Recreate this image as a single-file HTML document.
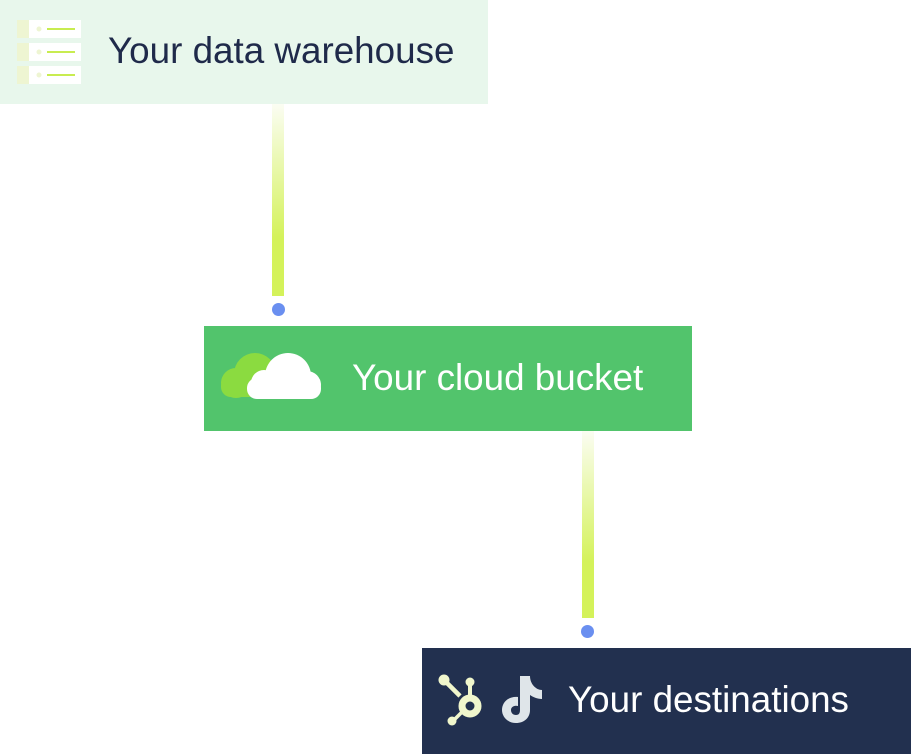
<!DOCTYPE html>
<html><head><meta charset="utf-8"><style>
html,body{margin:0;padding:0;background:#fff;width:911px;height:754px;overflow:hidden;position:relative;font-family:"Liberation Sans",sans-serif}
.box{position:absolute}
.t{font-size:36.8px;white-space:nowrap}
.bar{position:absolute;width:12px}
.dot{position:absolute;width:13px;height:13px;border-radius:50%;background:#6a8ff0}
</style></head><body>
<div class="box" style="left:0;top:0;width:488px;height:104px;background:#e8f7ec">
  <svg style="position:absolute;left:17px;top:20px" width="66" height="66" viewBox="0 0 66 66">
    <g>
      <rect x="0" y="0" width="64" height="18" fill="#fff"/><rect x="0" y="0" width="12" height="18" fill="#eef5d2"/>
      <circle cx="22" cy="9" r="2.5" fill="#eef5d2"/><rect x="30" y="8" width="28" height="2" fill="#c8ec50"/>
      <rect x="0" y="23" width="64" height="18" fill="#fff"/><rect x="0" y="23" width="12" height="18" fill="#eef5d2"/>
      <circle cx="22" cy="32" r="2.5" fill="#eef5d2"/><rect x="30" y="31" width="28" height="2" fill="#c8ec50"/>
      <rect x="0" y="46" width="64" height="18" fill="#fff"/><rect x="0" y="46" width="12" height="18" fill="#eef5d2"/>
      <circle cx="22" cy="55" r="2.5" fill="#eef5d2"/><rect x="30" y="54" width="28" height="2" fill="#c8ec50"/>
    </g>
  </svg>
  <span class="t" style="position:absolute;left:108px;top:30px;color:#1f2a4a">Your data warehouse</span>
</div>
<div class="bar" style="left:272px;top:104px;height:192px;background:linear-gradient(#fbfdf3,#d4f25a 70%,#d4f25a)"></div>
<div class="dot" style="left:272px;top:303px"></div>

<div class="box" style="left:204px;top:326px;width:488px;height:105px;background:#52c46c">
  <svg style="position:absolute;left:0;top:0" width="140" height="105">
    <g fill="#8bdb40">
      <circle cx="51" cy="48" r="21"/>
      <circle cx="32" cy="57" r="15"/>
      <rect x="17" y="50" width="55" height="21" rx="10"/>
    </g>
    <g fill="#fff">
      <circle cx="84" cy="50" r="23"/>
      <circle cx="60" cy="57" r="13"/>
      <circle cx="103" cy="59" r="14"/>
      <rect x="43" y="52" width="74" height="21" rx="10"/>
    </g>
  </svg>
  <span class="t" style="position:absolute;left:148px;top:31px;color:#fff">Your cloud bucket</span>
</div>
<div class="bar" style="left:582px;top:431px;height:187px;background:linear-gradient(#fbfdf3,#d4f25a 70%,#d4f25a)"></div>
<div class="dot" style="left:581px;top:625px"></div>

<div class="box" style="left:422px;top:648px;width:489px;height:106px;background:#22304f">
  <svg style="position:absolute;left:16px;top:26px" width="52" height="52" viewBox="0 0 52 52">
    <g fill="#f0f6cc" stroke="#f0f6cc">
      <line x1="6" y1="6" x2="22" y2="22" stroke-width="4.5"/>
      <circle cx="6" cy="6" r="5.5" stroke="none"/>
      <line x1="32" y1="10" x2="32" y2="22" stroke-width="4"/>
      <circle cx="32" cy="8" r="4.5" stroke="none"/>
      <line x1="26" y1="36" x2="16" y2="46" stroke-width="3.5"/>
      <circle cx="14" cy="47" r="4.5" stroke="none"/>
      <circle cx="32" cy="32" r="8" fill="none" stroke-width="7"/>
    </g>
  </svg>
  <svg style="position:absolute;left:78px;top:26px" width="46" height="50" viewBox="0 0 46 50">
    <path d="M20 2 H30 C30 10 36 16 42 16 V25 C37 25 33 23 30 21 V36 C30 44 24 49 16 49 C8 49 2 43 2 36 C2 28 9 22 18 23 V32 C14 31 11 33 11 36 C11 39 13 41 16 41 C19 41 20 39 20 36 Z" fill="#dfe5e9"/>
  </svg>
  <span class="t" style="position:absolute;left:146px;top:31px;color:#fff">Your destinations</span>
</div>
</body></html>
